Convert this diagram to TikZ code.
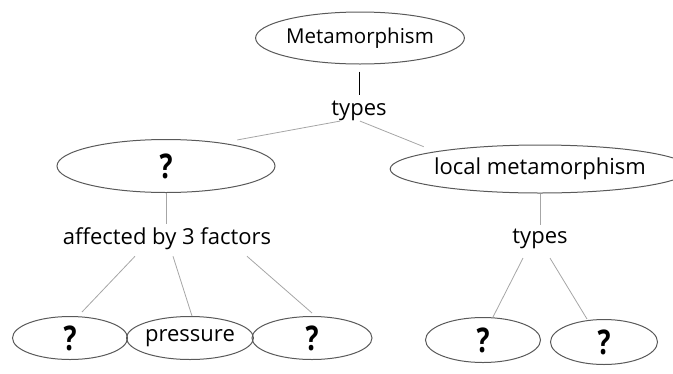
\documentclass[tikz,border=0pt]{standalone}
\usepackage{fontspec}
\setmainfont{Open Sans}
\usetikzlibrary{shapes.geometric,calc}
\newcommand\qmark{\scalebox{0.8}[1]{\bfseries ?}}
\begin{document}
\begin{tikzpicture}[x=1pt,y=-1pt,
  bub/.style={ellipse,draw=black!65,line width=1pt,inner sep=0pt},
  lbl/.style={font=\fontsize{22}{24}\selectfont,inner sep=0pt},
  qm/.style={font=\fontsize{34}{36}\selectfont},
  link/.style={draw=black!35,line width=0.8pt},
  blk/.style={draw=black,line width=1pt}]
\useasboundingbox (0,0) rectangle (673,373);
% top
\node[bub,font=\fontsize{20.5}{22}\selectfont,minimum width=181pt,minimum height=52pt] (m) at (360,38) {Metamorphism};
\node[lbl] (t1) at (359,111) {types};
% level 2
\node[bub,qm,minimum width=218pt,minimum height=53pt] (e1) at (166,166) {\qmark};
\node[bub,lbl,minimum width=255pt,minimum height=48pt] (e2) at (540,169) {local metamorphism};
\node[lbl] (aff) at (167,239) {affected by 3 factors};
\node[lbl] (t2) at (540,239) {types};
% bottom
\node[bub,qm,minimum width=115pt,minimum height=43pt] (b1) at (70,338) {\qmark};
\node[bub,lbl,minimum width=120pt,minimum height=43pt] (b2) at (190,338) {pressure};
\node[bub,qm,minimum width=120pt,minimum height=43pt] (b3) at (312,338) {\qmark};
\node[bub,qm,minimum width=115pt,minimum height=45pt] (b4) at (483,340) {\qmark};
\node[bub,qm,minimum width=107pt,minimum height=45pt] (b5) at (604,342) {\qmark};
% connectors
\draw[blk] ($(m.south)+(-1,7)$) -- ($(t1.north)+(0,-6)$);
\draw[link] ($(t1.south)+(-19,0)$) -- ($(e1.north east)+(-6,-7)$);
\draw[link] ($(t1.south)+(1,0)$) -- ($(e2.north west)+(-10,-5)$);
\draw[link] (e1.south) -- ($(aff.north)+(-1,-4)$);
\draw[link] (e2.south) -- ($(t2.north)+(0,-4)$);
\draw[link] ($(aff.south)+(-32,6)$) -- ($(b1.north)+(12,-4)$);
\draw[link] ($(aff.south)+(6,6)$) -- ($(b2.north)+(2,0)$);
\draw[link] ($(aff.south)+(80,6)$) -- ($(b3.north)+(0,-3)$);
\draw[link] ($(t2.south)+(-17,9)$) -- ($(b4.north)+(10,0)$);
\draw[link] ($(t2.south)+(10,9)$) -- ($(b5.north)+(-17,0)$);
\end{tikzpicture}
\end{document}
